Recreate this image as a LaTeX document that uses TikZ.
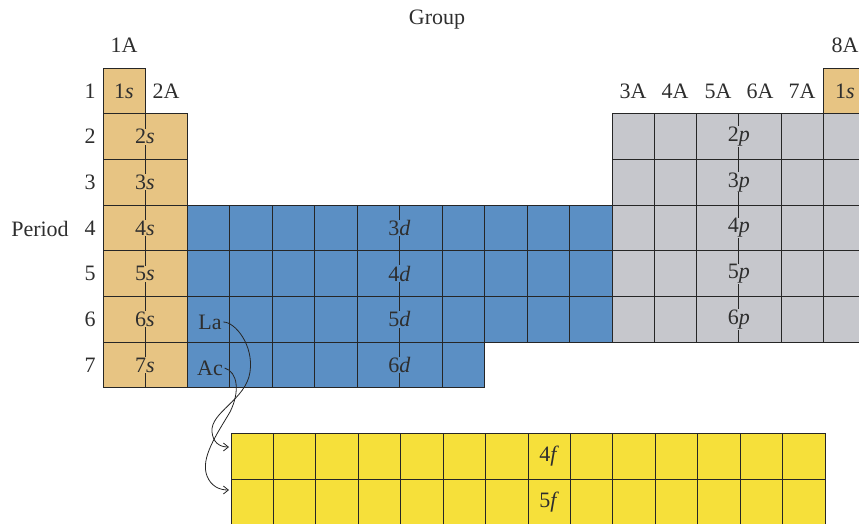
\documentclass[tikz,border=0pt]{standalone}
\usepackage{fontspec}
\setmainfont{Liberation Serif}
\usetikzlibrary{arrows.meta}

\definecolor{sblock}{HTML}{E7C483}
\definecolor{dblock}{HTML}{5B8FC4}
\definecolor{pblock}{HTML}{C6C7CC}
\definecolor{fblock}{HTML}{F6E03A}
\definecolor{gridline}{HTML}{262626}
\definecolor{inktext}{HTML}{2E2E2E}

\tikzset{
  cell/.style={draw=gridline, line width=0.9pt},
  lbl/.style={font=\fontsize{22}{24}\selectfont, text=inktext, inner sep=0.6pt},
  hdr/.style={font=\fontsize{22}{24}\selectfont, text=inktext, inner sep=1pt},
  arr/.style={draw=gridline, line width=0.8pt, -{Straight Barb[length=5pt,width=8pt]}}
}

\begin{document}
\begin{tikzpicture}[x=1pt,y=-1pt]
\useasboundingbox (0,0) rectangle (859,523);
\clip (0,0) rectangle (859,523);

% row tops: 68 + (r-1)*45.7
\def\rh{45.7}

% s block, group 1A (periods 1-7)
\foreach \r in {1,...,7}
  \filldraw[cell, fill=sblock] (103,{68+(\r-1)*\rh}) rectangle ++(42,\rh);
% s block, group 2A (periods 2-7)
\foreach \r in {2,...,7}
  \filldraw[cell, fill=sblock] (145,{68+(\r-1)*\rh}) rectangle ++(42,\rh);

% d block, periods 4-6
\foreach \r in {4,5,6}
  \foreach \c in {0,...,9}
    \filldraw[cell, fill=dblock] ({187+\c*42.5},{68+(\r-1)*\rh}) rectangle ++(42.5,\rh);
% d block, period 7
\foreach \c in {0,...,6}
  \filldraw[cell, fill=dblock] ({187+\c*42.5},{68+6*\rh}) rectangle ++(42.5,\rh);

% p block, periods 2-6
\foreach \r in {2,...,6}
  \foreach \c in {0,...,5}
    \filldraw[cell, fill=pblock] ({612+\c*42.3},{68+(\r-1)*\rh}) rectangle ++(42.3,\rh);
% helium cell
\filldraw[cell, fill=sblock] (823.5,68) rectangle ++(42.3,\rh);

% f block
\foreach \r in {0,1}
  \foreach \c in {0,...,13}
    \filldraw[cell, fill=fblock] ({231+\c*42.43},{433+\r*46}) rectangle ++(42.43,46);

% headings
\node[hdr] (group) at (437,20) {Group};
\node[hdr] (period) at (40,229) {Period};
\node[hdr] (g1) at (124,45) {1A};
\node[hdr] (g2) at (166,91) {2A};
\node[hdr] (g3) at (633,91) {3A};
\node[hdr] (g4) at (675,91) {4A};
\node[hdr] (g5) at (718,91) {5A};
\node[hdr] (g6) at (760,91) {6A};
\node[hdr] (g7) at (802,91) {7A};
\node[hdr] (g8) at (845,45) {8A};

% period numbers
\foreach \r in {1,...,7}
  \node[hdr] (p\r) at (90,{68+(\r-0.5)*\rh}) {\r};

% s labels
\node[lbl, fill=sblock] (s1) at (124,91) {1\textit{s}};
\node[lbl, fill=sblock] (s8) at (845,91) {1\textit{s}};
\foreach \r in {2,...,7}
  \node[lbl, fill=sblock] (s\r) at (145,{68+(\r-0.5)*\rh}) {\r\textit{s}};

% d labels
\foreach \r/\n in {4/3,5/4,6/5,7/6}
  \node[lbl, fill=dblock] (d\n) at (399.5,{68+(\r-0.5)*\rh}) {\n\textit{d}};

% p labels
\foreach \r in {2,...,6}
  \node[lbl, fill=pblock] (pp\r) at (738.9,{68+(\r-0.5)*\rh}) {\r\textit{p}};

% f labels
\node[lbl, fill=fblock] (f4) at (549.2,456) {4\textit{f}};
\node[lbl, fill=fblock] (f5) at (549.2,502) {5\textit{f}};

% La and Ac placeholders
\node[lbl] (La) at (210,322) {La};
\node[lbl] (Ac) at (210,368) {Ac};

% ends of the curved pointers at the f rows
\coordinate (f4in) at (229,447);
\coordinate (f5in) at (229,490);

\draw[arr] ([xshift=1pt]La.east) .. controls (235,322) and (254,345) .. (250,372)
  .. controls (246,400) and (210,412) .. (212,432)
  .. controls (213,442) and (219,447) .. (f4in);
\draw[arr] ([xshift=1pt]Ac.east) .. controls (238,372) and (240,392) .. (230,412)
  .. controls (217,434) and (200,458) .. (207,476)
  .. controls (211,486) and (219,490) .. (f5in);
\end{tikzpicture}
\end{document}
